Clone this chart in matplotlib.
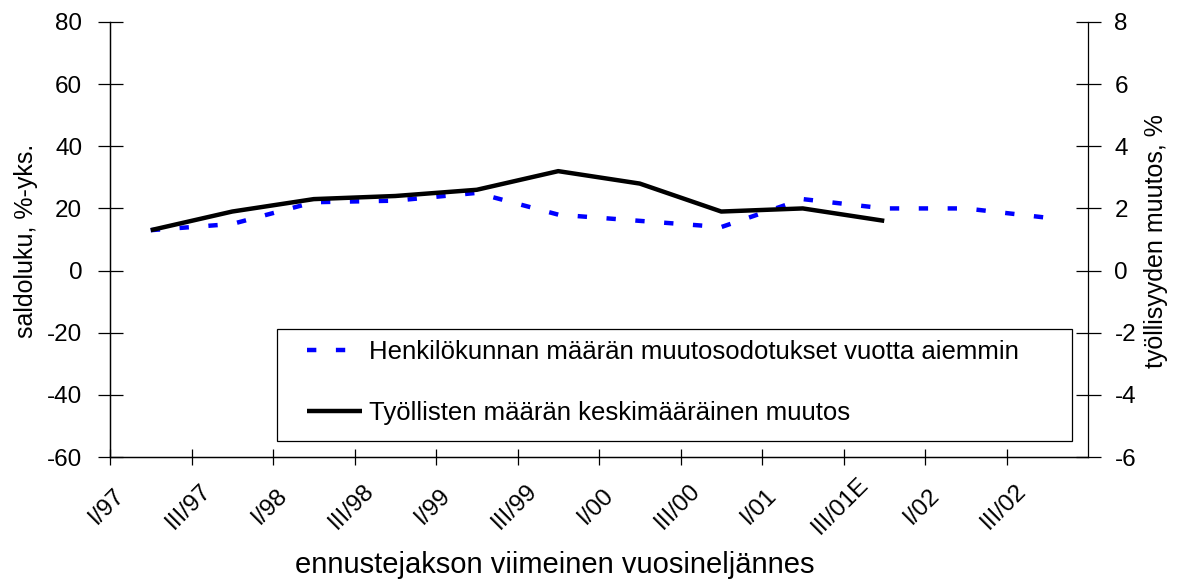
import matplotlib
matplotlib.use("Agg")
import matplotlib.pyplot as plt
import matplotlib.transforms as mtransforms
from matplotlib.patches import Rectangle
import numpy as np

plt.rcParams['font.family'] = ['Liberation Sans', 'DejaVu Sans']
plt.rcParams['axes.unicode_minus'] = False

# vuosineljännekset (x-akseli)
quarters = ['I/97', 'III/97', 'I/98', 'III/98', 'I/99', 'III/99',
            'I/00', 'III/00', 'I/01', 'III/01E', 'I/02', 'III/02']

# saldoluku, %-yks. (vasen akseli)
odotukset = [13, 15, 22, 22.5, 25, 18, 16, 14, 23, 20, 20, 17]
# työllisyyden muutos, % (oikea akseli)
tyolliset = [1.3, 1.9, 2.3, 2.4, 2.6, 3.2, 2.8, 1.9, 2.0, 1.6]

labels = ['Henkilökunnan määrän muutosodotukset vuotta aiemmin',
          'Työllisten määrän keskimääräinen muutos']

W, H = 1181, 583
fig = plt.figure(figsize=(W / 100, H / 100), dpi=100)
ax = fig.add_axes([110 / W, 1 - 457 / H, 978 / W, 435 / H])
ax2 = ax.twinx()

x = np.arange(len(quarters)) + 0.5
l1, = ax.plot(x, odotukset, color='#0000ff', lw=3.2, dashes=(2.1, 4.4),
              dash_capstyle='butt')
l2, = ax2.plot(x[:len(tyolliset)], tyolliset, color='black', lw=3.2,
               solid_capstyle='butt')

ax.set_xlim(0, 12)
ax.set_ylim(-60, 80)
ax.set_yticks(np.arange(-60, 81, 20))
ax2.set_ylim(-6, 8)
ax2.set_yticks(np.arange(-6, 9, 2))

for a in (ax, ax2):
    a.spines['top'].set_visible(False)
    for s in a.spines.values():
        s.set_linewidth(0.9)
ax.spines['right'].set_visible(False)

ax.tick_params(axis='y', direction='inout', length=18, width=0.9,
               labelsize=17.5, pad=11)
ax2.tick_params(axis='y', direction='inout', length=18, width=0.9,
                labelsize=17.5, pad=10)
ax.tick_params(axis='x', direction='inout', length=11, width=0.9,
               labelsize=17.5, pad=30)

ax.set_xticks(np.arange(len(quarters)))
ax.set_xticklabels(quarters, rotation=45, rotation_mode='anchor',
                   ha='center', va='center')
off = mtransforms.ScaledTranslation(-0.03, 0, fig.dpi_scale_trans)
for lab in ax.get_xticklabels():
    lab.set_transform(lab.get_transform() + off)

fig.text(555 / W, 1 - 573 / H, 'ennustejakson viimeinen vuosineljännes',
         ha='center', va='baseline', fontsize=21)
fig.text(26 / W, 1 - 241 / H, 'saldoluku, %-yks.', rotation=90,
         ha='center', va='center', fontsize=18)
fig.text(1156 / W, 1 - 241 / H, 'työllisyyden muutos, %', rotation=90,
         ha='center', va='center', fontsize=18)

# selitelaatikko
ax2.add_patch(Rectangle((167 / 978, 16 / 435), 795 / 978, 112 / 435,
                        transform=ax2.transAxes, facecolor='white',
                        edgecolor='black', lw=0.9, zorder=4))
leg = ax2.legend([l1, l2], labels, loc='upper left',
                 bbox_to_anchor=(197 / 978, (457 - 340) / 435),
                 frameon=False, fontsize=18.5, borderpad=0, borderaxespad=0,
                 handlelength=2.15, handletextpad=0.25, labelspacing=1.45)
leg.set_zorder(5)

fig.savefig('out.png', dpi=100)
